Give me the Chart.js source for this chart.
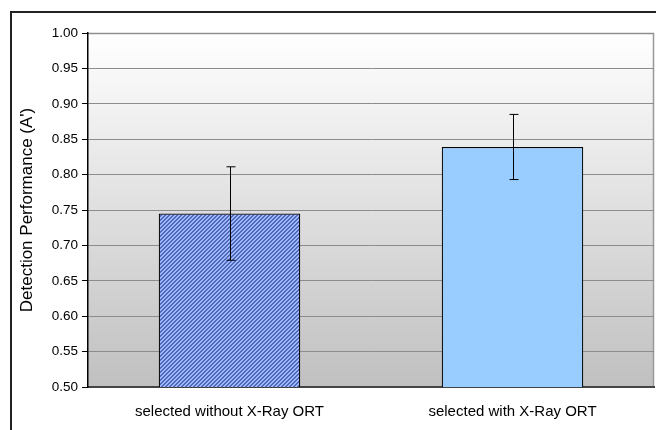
<!DOCTYPE html>
<html lang="en">
<head>
    <meta charset="UTF-8">
    <title>Detection Performance</title>
    <style>
        html, body { margin: 0; padding: 0; background: #fff; }
        .frame {
            position: absolute; left: 10px; top: 11px; width: 700px; height: 500px;
            border-left: 2px solid #222; border-top: 2px solid #222; box-sizing: border-box;
        }
        .wrap { position: absolute; left: 0; top: 0; width: 656px; height: 430px; }
    </style>
</head>
<body>
    <div class="frame"></div>
    <div class="wrap"><canvas id="chart" width="656" height="430"></canvas></div>
    <script src="https://cdn.jsdelivr.net/npm/chart.js"></script>
    <script>
        const categories = ["selected without X-Ray ORT", "selected with X-Ray ORT"];
        const values = [0.745, 0.839];
        const errors = [0.066, 0.046];
        const yTicks = [0.50, 0.55, 0.60, 0.65, 0.70, 0.75, 0.80, 0.85, 0.90, 0.95, 1.00];

        // small hatch pattern for the first bar
        function hatch() {
            const c = document.createElement("canvas");
            c.width = 4; c.height = 4;
            const g = c.getContext("2d");
            g.fillStyle = "#9abcff";
            g.fillRect(0, 0, 4, 4);
            g.fillStyle = "#5566b8";
            for (let i = 0; i < 4; i++) {
                g.fillRect((3 - i + 4) % 4, i, 1, 1);
                g.fillRect((4 - i + 4) % 4, i, 1, 1);
            }
            return g.createPattern(c, "repeat");
        }

        const plotBg = {
            id: "plotBg",
            beforeDraw(chart) {
                const { ctx, chartArea: a } = chart;
                const grad = ctx.createLinearGradient(0, a.top, 0, a.bottom);
                grad.addColorStop(0, "#ffffff");
                grad.addColorStop(1, "#c0c0c0");
                ctx.save();
                ctx.fillStyle = grad;
                ctx.fillRect(a.left, a.top, a.right - a.left, a.bottom - a.top);
                ctx.strokeStyle = "#999";
                ctx.lineWidth = 1.5;
                ctx.beginPath();
                ctx.moveTo(a.left, a.top + 0.5);
                ctx.lineTo(a.right - 0.5, a.top + 0.5);
                ctx.lineTo(a.right - 0.5, a.bottom);
                ctx.stroke();
                ctx.restore();
            }
        };

        const errorBars = {
            id: "errorBars",
            afterDatasetsDraw(chart) {
                const { ctx, scales: { x, y } } = chart;
                ctx.save();
                ctx.strokeStyle = "#000";
                ctx.lineWidth = 1;
                values.forEach((v, i) => {
                    const px = Math.round(x.getPixelForValue(i)) + 0.5;
                    const top = y.getPixelForValue(v + errors[i]);
                    const bot = y.getPixelForValue(v - errors[i]);
                    ctx.beginPath();
                    ctx.moveTo(px, top); ctx.lineTo(px, bot);
                    ctx.moveTo(px - 4, top); ctx.lineTo(px + 5, top);
                    ctx.moveTo(px - 4, bot); ctx.lineTo(px + 5, bot);
                    ctx.stroke();
                });
                ctx.restore();
            }
        };

        Chart.defaults.font.family = "'Liberation Sans', Arial, sans-serif";
        Chart.defaults.color = "#000";

        new Chart(document.getElementById("chart"), {
            type: "bar",
            data: {
                labels: categories,
                datasets: [{
                    data: values,
                    backgroundColor: [hatch(), "#99ccff"],
                    borderColor: "#000",
                    borderWidth: 1.2,
                    categoryPercentage: 1,
                    barPercentage: 0.5
                }]
            },
            options: {
                responsive: false,
                animation: false,
                layout: { padding: { left: 10, top: 33, right: 2, bottom: 0 } },
                plugins: { legend: { display: false }, tooltip: { enabled: false } },
                scales: {
                    x: {
                        afterFit(s) { s.height = 43; },
                        grid: { display: false, drawTicks: false },
                        border: { color: "#444", width: 2 },
                        ticks: { font: { size: 15 }, padding: 16, maxRotation: 0 }
                    },
                    y: {
                        min: 0.5,
                        max: 1.0,
                        afterFit(s) { s.width = 78; },
                        afterBuildTicks(s) { s.ticks = yTicks.map(v => ({ value: v })); },
                        grid: { color: "#8c8c8c", lineWidth: 1, tickLength: 6, tickColor: "#000", drawOnChartArea: true },
                        border: { color: "#000", width: 1.5 },
                        ticks: {
                            font: { size: 13.5 },
                            padding: 4,
                            callback: v => v.toFixed(2)
                        },
                        title: {
                            display: true,
                            text: "Detection Performance (A')",
                            font: { size: 17 },
                            padding: { top: 7, bottom: 0 }
                        }
                    }
                }
            },
            plugins: [plotBg, errorBars]
        });
    </script>
</body>
</html>
